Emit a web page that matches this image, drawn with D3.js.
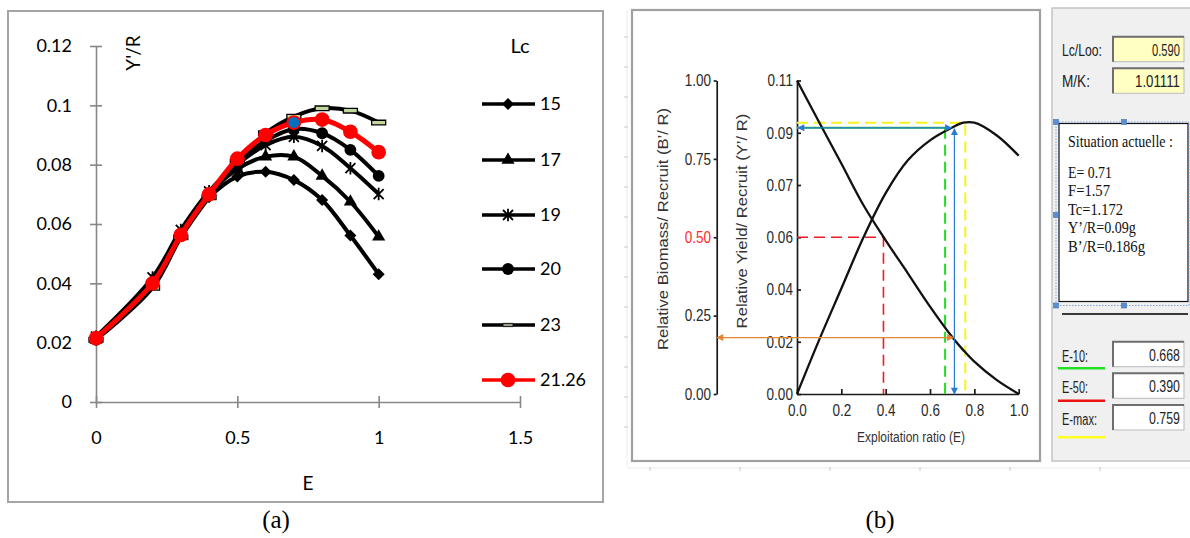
<!DOCTYPE html>
<html><head><meta charset="utf-8">
<script src="https://cdn.jsdelivr.net/npm/d3@7"></script>
<style>body{margin:0;background:#fff} svg{display:block}</style>
</head><body><svg id="c" width="1190" height="538"></svg>
<script>
// ---------- Panel (a) data ----------
const eValues = [0, 0.2, 0.3, 0.4, 0.5, 0.6, 0.7, 0.8, 0.9, 1.0];
const lc15  = [0.021, 0.041, 0.057, 0.069, 0.076, 0.0776, 0.0748, 0.0681, 0.0561, 0.0431];
const lc17  = [0.021, 0.041, 0.057, 0.070, 0.0785, 0.0827, 0.0827, 0.0762, 0.0675, 0.0557];
const lc19  = [0.022, 0.042, 0.058, 0.071, 0.080, 0.0866, 0.0894, 0.0863, 0.0788, 0.0701];
const lc20  = [0.021, 0.040, 0.056, 0.070, 0.081, 0.088, 0.092, 0.0906, 0.085, 0.0762];
const lc23  = [0.021, 0.0385, 0.0555, 0.069, 0.081, 0.0906, 0.0962, 0.0990, 0.0982, 0.0942];
const lc2126 = [0.0215, 0.040, 0.0563, 0.070, 0.082, 0.090, 0.0942, 0.0952, 0.0911, 0.0842];
const seriesNames = ["15", "17", "19", "20", "23", "21.26"];
const currentE = [0.7];
const currentY = [0.0942];
const yTicksA = [0, 0.02, 0.04, 0.06, 0.08, 0.1, 0.12];
const xTicksA = [0, 0.5, 1, 1.5];

// ---------- Panel (b) data ----------
const bE = [0, 0.1, 0.2, 0.3, 0.4, 0.5, 0.6, 0.7, 0.75, 0.8, 0.9, 1.0];
const yieldPerRecruit   = [0, 0.019, 0.037, 0.055, 0.0705, 0.082, 0.089, 0.0935, 0.0952, 0.0952, 0.0908, 0.0836];
const biomassPerRecruit = [1.0, 0.867, 0.735, 0.602, 0.49, 0.385, 0.279, 0.182, 0.14, 0.103, 0.045, 0.0];
const yTicksB = [0, 0.018333, 0.036667, 0.055, 0.073333, 0.091667, 0.11];
const bioTicks = [0, 0.25, 0.5, 0.75, 1.0];
const xTicksB = [0, 0.2, 0.4, 0.6, 0.8, 1.0];
const E10 = 0.668, E50 = 0.390, Emax = 0.759, Ecur = 0.71;
const yAtEmax = 0.0952, yAtCur = 0.0934, bAtCur = 0.18, bAtE50 = 0.5;
const paramLabels = ["Lc/Loo:", "M/K:"];
const paramValues = ["0.590", "1.01111"];
const situationTitle = "Situation actuelle :";
const situationLines = ["E= 0.71", "F=1.57", "Tc=1.172", "Y\u2019/R=0.09g", "B\u2019/R=0.186g"];
const eLabels = ["E-10:", "E-50:", "E-max:"];
const eValuesTxt = ["0.668", "0.390", "0.759"];

const svg = d3.select("#c");
const fontA = "Lato, 'Open Sans', sans-serif";
const fontB = "'Liberation Sans', Arial, sans-serif";
const fontSerif = "'Liberation Serif', 'Times New Roman', serif";

// ================= Panel (a) =================
svg.append("rect").attr("x", 8).attr("y", 11).attr("width", 595).attr("height", 491)
  .attr("fill", "none").attr("stroke", "#a5a5a5").attr("stroke-width", 2);

const xA = d3.scaleLinear().domain([0, 1.5]).range([96, 520]);
const yA = d3.scaleLinear().domain([0, 0.12]).range([402, 46]);

const gyA = svg.append("g").attr("transform", `translate(${xA(0)},0)`)
  .call(d3.axisLeft(yA).tickValues(yTicksA).tickFormat(d => String(d)).tickSize(6).tickSizeOuter(0).tickPadding(18));
gyA.selectAll(".tick line").attr("x1", 6);
const gxA = svg.append("g").attr("transform", `translate(0,${yA(0)})`)
  .call(d3.axisBottom(xA).tickValues(xTicksA).tickFormat(d => String(d)).tickSize(6).tickSizeOuter(0).tickPadding(23));
gxA.selectAll(".tick line").attr("y1", -6);
[gyA, gxA].forEach(g => {
  g.selectAll("path,line").attr("stroke", "#878787").attr("stroke-width", 1.6);
  g.selectAll("text").attr("font-family", fontA).attr("font-size", 18).attr("fill", "#000");
});

svg.append("text").attr("transform", "translate(140,53) rotate(-90)").attr("text-anchor", "middle")
  .attr("font-family", fontA).attr("font-size", 19).text("Y'/R");
svg.append("text").attr("x", 308).attr("y", 490).attr("text-anchor", "middle")
  .attr("font-family", fontA).attr("font-size", 19).text("E");
svg.append("text").attr("x", 520).attr("y", 53).attr("text-anchor", "middle")
  .attr("font-family", fontA).attr("font-size", 20).text("Lc");

const asterisk = { draw(ctx, size) { const r = Math.sqrt(size) / 2;
  ctx.moveTo(-r, -r); ctx.lineTo(r, r); ctx.moveTo(r, -r); ctx.lineTo(-r, r);
  ctx.moveTo(0, -r * 1.25); ctx.lineTo(0, r * 1.25); } };
const diamond = { draw(ctx, size) { const r = Math.sqrt(size) / 2;
  ctx.moveTo(0, -r); ctx.lineTo(r, 0); ctx.lineTo(0, r); ctx.lineTo(-r, 0); ctx.closePath(); } };
const rectSym = { draw(ctx, size) { const w = Math.sqrt(size) / 2;
  ctx.rect(-w, -w * 0.33, 2 * w, w * 0.66); } };

const styles = [
  { vals: lc15, sym: diamond, size: 144, fill: "#000", stroke: "#000", sw: 0, lw: 4, color: "#000" },
  { vals: lc17, sym: d3.symbolTriangle, size: 75, fill: "#000", stroke: "#000", sw: 0, lw: 4, color: "#000" },
  { vals: lc19, sym: asterisk, size: 100, fill: "none", stroke: "#000", sw: 1.8, lw: 4, color: "#000" },
  { vals: lc20, sym: d3.symbolCircle, size: 110, fill: "#000", stroke: "#000", sw: 0, lw: 4, color: "#000" },
  { vals: lc23, sym: rectSym, size: 196, fill: "#c3d69b", stroke: "#000", sw: 1.3, lw: 4, color: "#000" },
  { vals: lc2126, sym: d3.symbolCircle, size: 170, fill: "#ff0000", stroke: "#ff0000", sw: 0, lw: 5, color: "#ff0000" }
];

const lineA = d3.line().x((d, i) => xA(eValues[i])).y(d => yA(d)).curve(d3.curveCatmullRom.alpha(0.5));
styles.forEach(s => {
  svg.append("path").attr("d", lineA(s.vals)).attr("fill", "none").attr("stroke", s.color)
    .attr("stroke-width", s.lw).attr("stroke-linejoin", "round");
  svg.append("g").selectAll("path").data(s.vals).join("path")
    .attr("transform", (d, i) => `translate(${xA(eValues[i])},${yA(d)})`)
    .attr("d", d3.symbol().type(s.sym).size(s.size))
    .attr("fill", s.fill).attr("stroke", s.stroke).attr("stroke-width", s.sw);
});
svg.append("g").selectAll("circle").data(currentE).join("circle")
  .attr("cx", d => xA(d)).attr("cy", (d, i) => yA(currentY[i])).attr("r", 6.2)
  .attr("fill", "#0070c0").attr("stroke", "#ff0000").attr("stroke-width", 1.4);

// legend
const legY = [104, 160, 215, 269, 325, 380];
styles.forEach((s, i) => {
  const g = svg.append("g").attr("transform", `translate(0,${legY[i]})`);
  g.append("line").attr("x1", 482).attr("x2", 535).attr("stroke", s.color).attr("stroke-width", 3.5);
  g.append("path").attr("transform", "translate(508,0)")
    .attr("d", d3.symbol().type(s.sym).size(i === 4 ? 100 : s.size))
    .attr("fill", i === 4 ? "#9a9a8a" : s.fill).attr("stroke", s.stroke).attr("stroke-width", i === 4 ? 0.8 : s.sw);
  g.append("text").attr("x", 540).attr("dy", "0.35em").attr("font-family", fontA).attr("font-size", 18).text(seriesNames[i]);
});

svg.append("text").attr("x", 276).attr("y", 528).attr("text-anchor", "middle")
  .attr("font-family", fontSerif).attr("font-size", 25).text("(a)");
svg.append("text").attr("x", 880).attr("y", 528).attr("text-anchor", "middle")
  .attr("font-family", fontSerif).attr("font-size", 25).text("(b)");

// ================= Panel (b) =================
// faint rulers
svg.append("line").attr("x1", 627).attr("x2", 627).attr("y1", 10).attr("y2", 466).attr("stroke", "#ececec").attr("stroke-width", 1);
svg.append("g").selectAll("line").data(d3.range(37, 440, 30)).join("line")
  .attr("x1", 624).attr("x2", 628).attr("y1", d => d).attr("y2", d => d).attr("stroke", "#c8c8c8");
svg.append("line").attr("x1", 627).attr("x2", 1190).attr("y1", 468).attr("y2", 468).attr("stroke", "#ececec");
svg.append("g").selectAll("line").data(d3.range(650, 1190, 90)).join("line")
  .attr("x1", d => d).attr("x2", d => d).attr("y1", 467).attr("y2", 471).attr("stroke", "#c8c8c8");

svg.append("rect").attr("x", 632).attr("y", 10).attr("width", 408).attr("height", 451)
  .attr("fill", "#fff").attr("stroke", "#a0a0a0").attr("stroke-width", 2.2);

const xB = d3.scaleLinear().domain([0, 1]).range([797, 1018.7]);
const yB = d3.scaleLinear().domain([0, 0.11]).range([394, 80.5]);
const bB = d3.scaleLinear().domain([0, 1]).range([394, 80.5]);

const gyB = svg.append("g").attr("transform", "translate(797,0)")
  .call(d3.axisLeft(yB).tickValues(yTicksB).tickFormat(d3.format(".2f")).tickSizeInner(-4).tickSizeOuter(0).tickPadding(5));
const gbB = svg.append("g").attr("transform", "translate(716.7,0)")
  .call(d3.axisLeft(bB).tickValues(bioTicks).tickFormat(d3.format(".2f")).tickSizeInner(3).tickSizeOuter(0).tickPadding(4));
const gxB = svg.append("g").attr("transform", "translate(0,394)")
  .call(d3.axisBottom(xB).tickValues(xTicksB).tickFormat(d3.format(".1f")).tickSizeInner(-5).tickSizeOuter(0).tickPadding(10.5));
[gyB, gbB, gxB].forEach(g => {
  g.selectAll("path,line").attr("stroke", "#1a1a1a").attr("stroke-width", 1.7);
  g.selectAll("text").attr("font-family", fontB).attr("font-size", 16.5).attr("fill", "#2a2a2a")
    .attr("transform", "scale(0.82,1)");
});
gbB.selectAll("text").filter(d => d === 0.5).attr("fill", "#ff2a2a");

// text helper: compress horizontally with a transform to a target width
function label(x, y, str, targetW, anchor, size, family, color, rotate) {
  const t = svg.append("text").attr("font-family", family || fontB).attr("font-size", size || 16)
    .attr("fill", color || "#222").attr("text-anchor", anchor || "start").text(str);
  const w = t.node().getComputedTextLength();
  const sx = targetW / w;
  t.attr("transform", `translate(${x},${y})${rotate ? " rotate(-90)" : ""} scale(${sx},1)`);
  return t;
}

label(668, 229, "Relative Biomass/ Recruit (B\u2019/ R)", 242, "middle", 15, fontB, "#333", true);
label(747, 221, "Relative Yield/ Recruit (Y\u2019/ R)", 215, "middle", 15, fontB, "#333", true);
label(911, 442, "Exploitation ratio (E)", 108, "middle", 15, fontB, "#333");

// reference lines
const dash = "11,6";
svg.append("path").attr("d", `M${xB(0)},${yB(yAtEmax)}H${xB(Emax)}V${yB(0)}`)
  .attr("fill", "none").attr("stroke", "#f5f51a").attr("stroke-width", 2).attr("stroke-dasharray", dash);
svg.append("path").attr("d", `M${xB(0)},${yB(yAtCur)}H${xB(E10)}`)
  .attr("fill", "none").attr("stroke", "#2ecc40").attr("stroke-width", 2);
svg.append("path").attr("d", `M${xB(E10)},${yB(yAtCur)}V${yB(0)}`)
  .attr("fill", "none").attr("stroke", "#22dd22").attr("stroke-width", 2).attr("stroke-dasharray", dash);
svg.append("path").attr("d", `M${xB(0)},${bB(bAtE50)}H${xB(E50)}V${yB(0)}`)
  .attr("fill", "none").attr("stroke", "#ee1c24").attr("stroke-width", 1.6).attr("stroke-dasharray", dash);

// curves
const lineY = d3.line().x((d, i) => xB(bE[i])).y(d => yB(d)).curve(d3.curveCatmullRom.alpha(0.5));
const lineBio = d3.line().x((d, i) => xB(bE[i])).y(d => bB(d)).curve(d3.curveCatmullRom.alpha(0.5));
svg.append("path").attr("d", lineY(yieldPerRecruit)).attr("fill", "none").attr("stroke", "#111").attr("stroke-width", 2.3);
svg.append("path").attr("d", lineBio(biomassPerRecruit)).attr("fill", "none").attr("stroke", "#111").attr("stroke-width", 2.3);

// arrows
const defs = svg.append("defs");
[["blue", "#2b7bd0"], ["orange", "#e5852f"]].forEach(([id, col]) => {
  defs.append("marker").attr("id", "arr-" + id).attr("viewBox", "0 0 10 10").attr("refX", 9).attr("refY", 5)
    .attr("markerWidth", 8).attr("markerHeight", 7).attr("markerUnits", "userSpaceOnUse")
    .attr("orient", "auto-start-reverse")
    .append("path").attr("d", "M0,0L10,5L0,10z").attr("fill", col);
});
svg.append("line").attr("x1", xB(Ecur) - 3).attr("x2", xB(0) + 1).attr("y1", yB(yAtCur)).attr("y2", yB(yAtCur))
  .attr("stroke", "#2b7bd0").attr("stroke-width", 1.2)
  .attr("marker-start", "url(#arr-blue)").attr("marker-end", "url(#arr-blue)");
svg.append("line").attr("x1", xB(Ecur)).attr("x2", xB(Ecur)).attr("y1", yB(yAtCur) + 1).attr("y2", yB(0))
  .attr("stroke", "#2b7bd0").attr("stroke-width", 1.2)
  .attr("marker-start", "url(#arr-blue)").attr("marker-end", "url(#arr-blue)");
svg.append("line").attr("x1", xB(Ecur) - 1).attr("x2", 717).attr("y1", bB(bAtCur)).attr("y2", bB(bAtCur))
  .attr("stroke", "#e5852f").attr("stroke-width", 1.2)
  .attr("marker-start", "url(#arr-orange)").attr("marker-end", "url(#arr-orange)");

// ---------- right control panel ----------
svg.append("rect").attr("x", 1052).attr("y", 8).attr("width", 140).attr("height", 453)
  .attr("fill", "#f0f0f0").attr("stroke", "#c4c4c4").attr("stroke-width", 1.5);

function box(x, y, w, h, fill) {
  svg.append("rect").attr("x", x).attr("y", y).attr("width", w).attr("height", h).attr("fill", fill)
    .attr("stroke", "#b9b9b9").attr("stroke-width", 1);
  svg.append("path").attr("d", `M${x},${y + h}V${y}H${x + w}`).attr("fill", "none")
    .attr("stroke", "#6e6e6e").attr("stroke-width", 2);
}
const paramY = [36.7, 68.3];
const paramLen = [40, 28], paramValLen = [28, 45];
paramLabels.forEach((t, i) => {
  box(1113, paramY[i], 71, 25, "#ffffc4");
  label(1062, paramY[i] + 19, t, paramLen[i]);
  label(1180, paramY[i] + 19, paramValues[i], paramValLen[i], "end");
});

// situation box
svg.append("rect").attr("x", 1059).attr("y", 123.5).attr("width", 129).attr("height", 178)
  .attr("fill", "#fff").attr("stroke", "#111").attr("stroke-width", 1.2);
svg.append("rect").attr("x", 1056).attr("y", 122).attr("width", 133).attr("height", 183.5)
  .attr("fill", "none").attr("stroke", "#7fa3d6").attr("stroke-width", 1).attr("stroke-dasharray", "1.5,1.5");
[[1056, 122], [1124, 122], [1056, 215], [1056, 305.5], [1124, 305.5]].forEach(([x, y]) =>
  svg.append("rect").attr("x", x - 2.5).attr("y", y - 2.5).attr("width", 5).attr("height", 5)
    .attr("fill", "#5b8fd0").attr("stroke", "#3d6fb8").attr("stroke-width", 0.6));
label(1068, 147, situationTitle, 105, "start", 17, fontSerif, "#111");
const sitLens = [44, 42, 55, 68, 77];
situationLines.forEach((t, i) => label(1068, 178 + i * 18.4, t, sitLens[i], "start", 17, fontSerif, "#111"));

svg.append("line").attr("x1", 1062).attr("x2", 1188).attr("y1", 314).attr("y2", 314)
  .attr("stroke", "#3a3a3a").attr("stroke-width", 2);

const eBoxY = [341.7, 373.3, 405];
const eLabLen = [26, 26, 35];
const eLineY = [368.3, 400.7, 437.3];
const eLineCol = ["#22e022", "#ee1111", "#ffff22"];
eLabels.forEach((t, i) => {
  box(1113, eBoxY[i], 71, 25, "#ffffff");
  label(1062, eBoxY[i] + 20, t, eLabLen[i]);
  label(1180, eBoxY[i] + 19, eValuesTxt[i], 31, "end");
  svg.append("line").attr("x1", 1058).attr("x2", 1105).attr("y1", eLineY[i]).attr("y2", eLineY[i])
    .attr("stroke", eLineCol[i]).attr("stroke-width", 2.6);
});
</script></body></html>
